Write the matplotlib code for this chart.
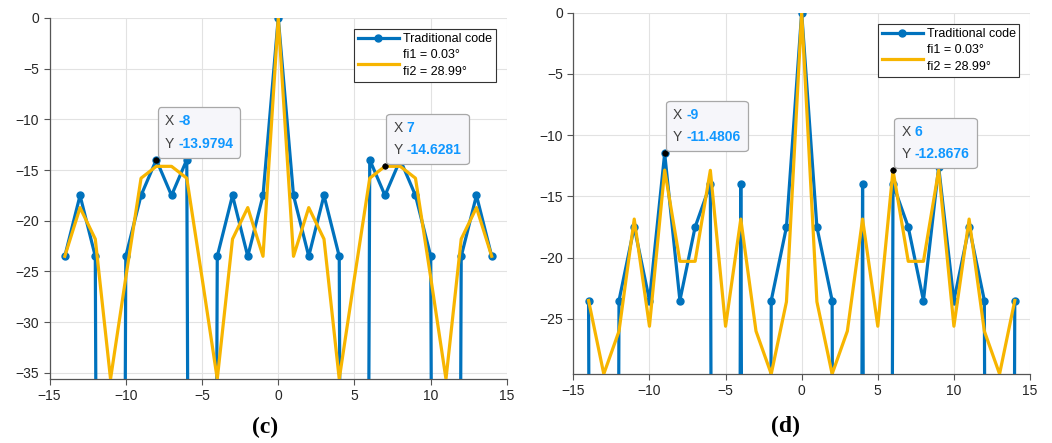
import numpy as np
import matplotlib
matplotlib.use("Agg")
import matplotlib.pyplot as plt
from matplotlib.offsetbox import TextArea, HPacker, VPacker, AnnotationBbox

plt.rcParams['font.family'] = ['Liberation Sans', 'DejaVu Sans']

# ---------------- data ----------------
x = list(range(-14, 15))
NEG_INF = -400.0   # stands in for -Inf dB (log of zero)

# panel (c)
trad_c = [-23.5, -17.5, -23.5, NEG_INF, -23.5, -17.5, -13.9794, -17.5, -13.9794, NEG_INF,
          -23.5, -17.5, -23.5, -17.5, 0.0, -17.5, -23.5, -17.5, -23.5, NEG_INF,
          -13.9794, -17.5, -13.9794, -17.5, -23.5, NEG_INF, -23.5, -17.5, -23.5]
new_c = [-23.5, -18.7, -21.8, -35.6, -25.6, -15.8, -14.63, -14.63, -15.8, -25.6,
         -35.6, -21.8, -18.7, -23.5, 0.0, -23.5, -18.7, -21.8, -35.6, -25.6,
         -15.8, -14.6281, -14.63, -15.8, -25.6, -35.6, -21.8, -18.7, -23.5]

# panel (d)
trad_d = [-23.5, NEG_INF, -23.5, -17.5, -23.5, -11.4806, -23.5, -17.5, -14.0, NEG_INF,
          -14.0, NEG_INF, -23.5, -17.5, 0.0, -17.5, -23.5, NEG_INF, -14.0, NEG_INF,
          -14.0, -17.5, -23.5, -12.6, -23.5, -17.5, -23.5, NEG_INF, -23.5]
new_d = [-23.5, -29.5, -26.0, -16.85, -25.6, -12.85, -20.3, -20.3, -12.87, -25.6,
         -16.85, -26.0, -29.5, -23.6, 0.0, -23.6, -29.5, -26.0, -16.85, -25.6,
         -12.8676, -20.3, -20.3, -12.85, -25.6, -16.85, -26.0, -29.5, -23.5]

legend_labels = ["Traditional code", "fi1 = 0.03°\nfi2 = 28.99°"]
x_ticks = [-15, -10, -5, 0, 5, 10, 15]
tips_c = [(-8, -13.9794), (7, -14.6281)]
tips_d = [(-9, -11.4806), (6, -12.8676)]
panel_labels = ["(c)", "(d)"]

BLUE = "#0072BD"
YELLOW = "#F7B500"
TIPBLUE = "#1097FF"

fig = plt.figure(figsize=(10.52, 4.43), dpi=100)
ax_c = fig.add_axes([0.0471, 0.1445, 0.4348, 0.8149])
ax_d = fig.add_axes([0.5450, 0.1558, 0.4341, 0.8155])


def datatip(ax, xv, yv):
    ax.plot([xv], [yv], 'o', color='black', ms=4, zorder=6,
            markeredgecolor='black', markeredgewidth=0.5)
    fp = dict(size=10, color='#404040')
    fv = dict(size=10, color=TIPBLUE, weight='bold')
    r1 = HPacker(children=[TextArea("X", textprops=fp),
                           TextArea(f"{xv:g}", textprops=fv)], sep=3, pad=0)
    r2 = HPacker(children=[TextArea("Y", textprops=fp),
                           TextArea(f"{yv:.4f}", textprops=fv)], sep=3, pad=0)
    box = VPacker(children=[r1, r2], sep=6, pad=0, align='left')
    ab = AnnotationBbox(box, (xv, yv), xybox=(6, 6.5), xycoords='data',
                        boxcoords='offset points', box_alignment=(0, 0),
                        pad=0.5, frameon=True,
                        bboxprops=dict(boxstyle='round,pad=0.5,rounding_size=0.25',
                                       fc='#f6f6fa', ec='#a8a8a8', lw=0.9))
    ab.set_zorder(7)
    ax.add_artist(ab)


def panel(ax, trad, new, ymin, yticks, tips, leg_anchor, label, lab_xy):
    ax.plot(x, trad, '-o', color=BLUE, lw=2.3, ms=5, label=legend_labels[0], zorder=3)
    ax.plot(x, new, '-', color=YELLOW, lw=2.3, label=legend_labels[1], zorder=4)
    ax.set_xlim(-15, 15)
    ax.set_ylim(ymin, 0)
    ax.set_xticks(x_ticks)
    ax.set_yticks(yticks)
    ax.grid(True, color='#e2e2e2', lw=0.8)
    ax.set_axisbelow(True)
    for s in ['top', 'right']:
        ax.spines[s].set_visible(False)
    for s in ['left', 'bottom']:
        ax.spines[s].set_color('#555555')
        ax.spines[s].set_linewidth(0.9)
    ax.tick_params(direction='out', length=4, width=0.8, colors='#555555',
                   labelcolor='#262626', labelsize=10)
    leg = ax.legend(loc='upper right', bbox_to_anchor=leg_anchor, borderaxespad=0,
                    fontsize=9, frameon=True, fancybox=False, edgecolor='#333333',
                    framealpha=1, handlelength=3.3, handletextpad=0.3,
                    labelspacing=0.35, borderpad=0.3)
    for t in leg.get_texts():
        t.set_linespacing(1.55)
    leg.get_frame().set_linewidth(0.8)
    leg.set_zorder(8)
    for xv, yv in tips:
        datatip(ax, xv, yv)
    fig.text(lab_xy[0], lab_xy[1], label, ha='center', va='center',
             fontsize=17, fontweight='bold', family='Liberation Serif')


panel(ax_c, trad_c, new_c, -35.6, list(range(-35, 1, 5)), tips_c,
      (0.975, 0.969), panel_labels[0], (265 / 1052, 1 - 427 / 443))
panel(ax_d, trad_d, new_d, -29.5, list(range(-25, 1, 5)), tips_d,
      (0.9766, 0.968), panel_labels[1], (785 / 1052, 1 - 426 / 443))

fig.savefig("out.png", dpi=100)
